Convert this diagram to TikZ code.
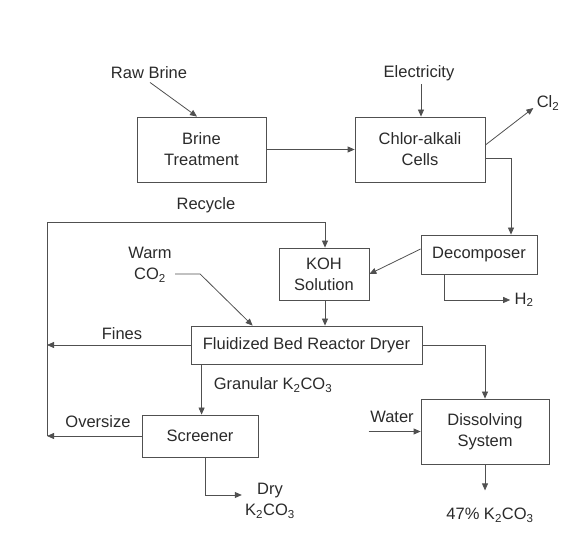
\documentclass[tikz,border=0pt]{standalone}
\usepackage{fontspec}
\setmainfont{Liberation Sans}
\usetikzlibrary{arrows.meta,calc}
\definecolor{linegray}{HTML}{505050}
\definecolor{textgray}{HTML}{2A2A2A}
\tikzset{
  unitbox/.style={draw=linegray, line width=0.8pt, align=center, inner sep=2pt},
  lbl/.style={align=center, inner sep=0pt, text=textgray},
}
\begin{document}
\begin{tikzpicture}[x=1pt, y=1pt, >={Triangle[length=7pt,width=6pt]}, line width=0.8pt, draw=linegray,
  every node/.style={font=\fontsize{16.5}{21}\selectfont, text=textgray}]
  \useasboundingbox (0,0) rectangle (575,554);
  % 设备方框
  \node[unitbox, minimum width=129, minimum height=65] (brine) at (201.5,404.5) {Brine\\Treatment};
  \node[unitbox, minimum width=130, minimum height=65] (chlor) at (420,404.5) {Chlor-alkali\\Cells};
  \node[unitbox, minimum width=116, minimum height=39] (decomp) at (479,299.5) {Decomposer};
  \node[unitbox, minimum width=90, minimum height=52] (koh) at (324,280) {KOH\\Solution};
  \node[unitbox, minimum width=231, minimum height=38] (fbrd) at (306.5,209) {Fluidized Bed Reactor Dryer};
  \node[unitbox, minimum width=116, minimum height=42] (screener) at (200,118) {Screener};
  \node[unitbox, minimum width=128, minimum height=65] (dissolv) at (485,122.5) {Dissolving\\System};

  % 物流标注
  \node[lbl] (rawbrine) at (149,481) {Raw Brine};
  \node[lbl] (elec) at (419,481) {Electricity};
  \node[lbl] (cl2) at (548,451) {Cl\textsubscript{2}};
  \node[lbl] (recycle) at (206,349) {Recycle};
  \node[lbl] (warm) at (150,289) {Warm\\CO\textsubscript{2}};
  \node[lbl] (fines) at (122,220) {Fines};
  \node[lbl] (granular) at (273,169) {Granular K\textsubscript{2}CO\textsubscript{3}};
  \node[lbl] (oversize) at (98,132) {Oversize};
  \node[lbl] (dry) at (270,53) {Dry\\K\textsubscript{2}CO\textsubscript{3}};
  \node[lbl] (water) at (392,137) {Water};
  \node[lbl] (h2) at (524,254) {H\textsubscript{2}};
  \node[lbl] (pct) at (490,39) {47\% K\textsubscript{2}CO\textsubscript{3}};

  \coordinate (lft) at (47,332);
  \coordinate (gran) at ($(fbrd.south west)+(11,0)$);

  % 主流程
  \draw[->] (rawbrine.south) ++(1,-3) -- ($(brine.north)+(-4.5,0)$);
  \draw[->] (elec.south) ++(2,-3) -- ($(chlor.north)+(1,0)$);
  \draw[->] (brine.east) -- (chlor.west);
  \draw[->] ($(chlor.east)+(0,4.5)$) -- ($(cl2.west)+(-3,-5)$);
  \draw[->] ($(chlor.east)+(0,-8.5)$) -| ($(decomp.north)+(32,0)$);
  \draw[->] ($(decomp.west)+(0,5.5)$) -- (koh.east);
  \draw[->] ($(decomp.south)+(-35,0)$) |- ($(h2.west)+(-4,0)$);
  \draw[->] (koh.south) ++(1,0) -- ($(fbrd.north)+(18.5,0)$);
  \draw[->] ($(warm.east)+(3,-9)$) -- ++(25,0) -- ($(fbrd.north west)+(62,0)$);

  % 循环
  \draw[->] (lft |- screener.west) -- (lft) -| ($(koh.north)+(1,0)$);
  \draw[->] (fbrd.west) -- (fbrd.west -| lft);
  \draw[->] (screener.west) -- (screener.west -| lft);

  % 产品
  \draw[->] (gran) -- (gran |- screener.north);
  \draw[->] ($(screener.south)+(5,0)$) |- ($(dry.west)+(-3,6)$);
  \draw[->] (fbrd.east) -| (dissolv.north);
  \draw[->] ($(dissolv.west)+(-52,0)$) -- (dissolv.west);
  \draw[->] (dissolv.south) -- ++(0,-26);
\end{tikzpicture}
\end{document}
